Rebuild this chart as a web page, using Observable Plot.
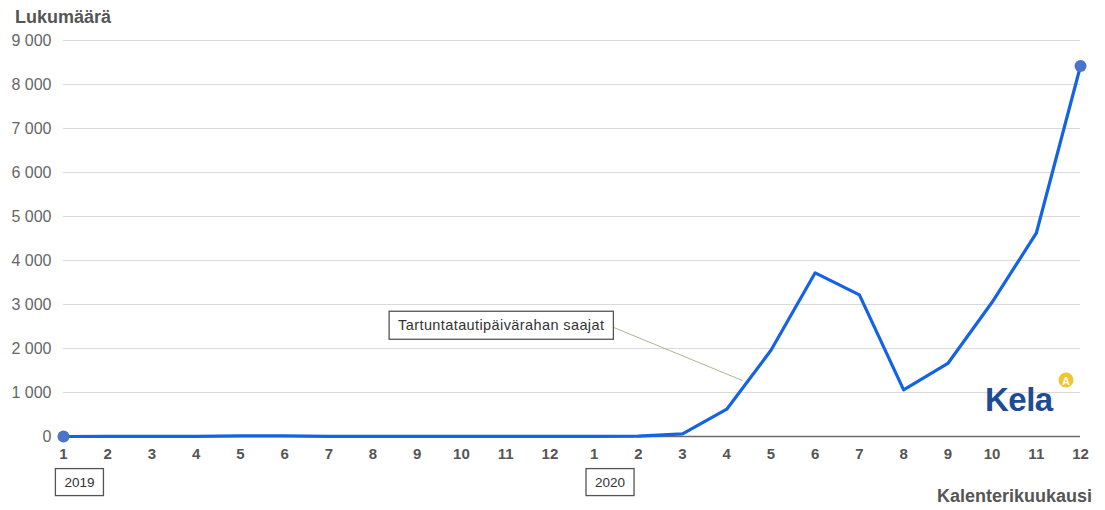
<!DOCTYPE html>
<html><head><meta charset="utf-8">
<script src="https://cdn.jsdelivr.net/npm/d3@7"></script>
<script src="https://cdn.jsdelivr.net/npm/@observablehq/plot@0.6"></script>
<style>
body{margin:0;background:#fff;font-family:"Liberation Sans",Arial,sans-serif;}
#chart{position:relative;width:1105px;height:510px;}
</style></head><body>
<div id="chart"></div>
<script>
const months = ["1","2","3","4","5","6","7","8","9","10","11","12","1","2","3","4","5","6","7","8","9","10","11","12"];
const years = ["2019","2020"];
const yearStartIndex = [0, 12];
const recipients = [0,2,3,5,15,12,5,3,3,3,3,3, 3,8,60,620,1960,3720,3220,1060,1660,3050,4620,8420];
const yTicks = [0,1000,2000,3000,4000,5000,6000,7000,8000,9000];
const seriesLabel = "Tartuntatautipäivärahan saajat";
const labelPos = {i: 9.9, v: 2520};
const leader = {i1: 12.44, v1: 2480, i2: 15.36, v2: 1270};

const data = recipients.map((v,i)=>({i, v}));
const ends = [data[0], data[data.length-1]];
const fmt = d => d3.format(",")(d).replace(/,/g, " ");

const chart = Plot.plot({
  width: 1105, height: 510,
  marginLeft: 63, marginRight: 25, marginTop: 40, marginBottom: 74,
  style: {fontFamily: '"Liberation Sans", Arial, sans-serif', background: "#fff", overflow: "visible"},
  x: {domain: [0, 23], ticks: d3.range(24), tickFormat: i => months[i], tickSize: 0, tickPadding: 12, label: null},
  y: {domain: [0, 9000], ticks: yTicks, tickFormat: fmt, tickSize: 0, tickPadding: 12, label: null},
  marks: [
    Plot.gridY(yTicks, {stroke: "#d9d9d9", strokeOpacity: 1, strokeWidth: 1}),
    Plot.ruleY([0], {stroke: "#6b6b6b", strokeWidth: 1.5}),
    Plot.link([leader], {x1: "i1", y1: "v1", x2: "i2", y2: "v2", stroke: "#a9b98e", strokeWidth: 1}),
    Plot.line(data, {x: "i", y: "v", stroke: "#1463e6", strokeWidth: 3.2}),
    Plot.dot(ends, {x: "i", y: "v", r: 6, fill: "#4a74c8"}),
    Plot.text([seriesLabel], {x: labelPos.i, y: labelPos.v, text: d => d, fontSize: 14.5, fill: "#333", className: "boxed"}),
    Plot.text(years, {x: (d,k) => yearStartIndex[k] + 0.36, y: -1040, text: d => d, fontSize: 13.5, fill: "#333", className: "boxed"})
  ]
});
chart.querySelectorAll('g.boxed text').forEach(t=>{ if (t.textContent === seriesLabel) t.setAttribute("letter-spacing", "0.4"); });
const xl = chart.querySelector('[aria-label="x-axis tick label"]');
if (xl) {xl.setAttribute("font-size","15"); xl.setAttribute("fill","#555"); xl.setAttribute("font-weight","bold");}
const yl = chart.querySelector('[aria-label="y-axis tick label"]');
if (yl) {yl.setAttribute("font-size","16"); yl.setAttribute("fill","#666");}
document.getElementById("chart").appendChild(chart);

// boxes around annotation texts
const ns = "http://www.w3.org/2000/svg";
chart.querySelectorAll("g.boxed text").forEach(t=>{
  const b = t.getBBox();
  const r = document.createElementNS(ns, "rect");
  const px = 9, py = 6;
  r.setAttribute("x", b.x - px); r.setAttribute("y", b.y - py);
  r.setAttribute("width", b.width + 2*px); r.setAttribute("height", b.height + 2*py);
  if (t.getAttribute("transform")) r.setAttribute("transform", t.getAttribute("transform"));
  r.setAttribute("fill", "#fff"); r.setAttribute("stroke", "#555"); r.setAttribute("stroke-width", "1.3");
  t.parentNode.insertBefore(r, t);
});

// axis titles and logo
function addText(x, y, s, attrs){
  const t = document.createElementNS(ns, "text");
  t.setAttribute("x", x); t.setAttribute("y", y); t.textContent = s;
  t.setAttribute("text-anchor", "start");
  for (const k in attrs) t.setAttribute(k, attrs[k]);
  chart.appendChild(t); return t;
}
addText(15, 23, "Lukumäärä", {"font-size": 18, "font-weight": "bold", fill: "#555"});
addText(1092, 502, "Kalenterikuukausi", {"font-size": 18, "font-weight": "bold", fill: "#555", "text-anchor": "end"});
addText(985, 411, "Kela", {"font-size": 33, "font-weight": "bold", fill: "#1f4b93", "letter-spacing": "-0.5"});
const c = document.createElementNS(ns, "circle");
c.setAttribute("cx", 1066); c.setAttribute("cy", 380); c.setAttribute("r", 7.5);
c.setAttribute("fill", "#f3c330"); chart.appendChild(c);
addText(1066, 384.5, "A", {"font-size": 11, "font-weight": "bold", fill: "#fff", "text-anchor": "middle"});
</script>
</body></html>
